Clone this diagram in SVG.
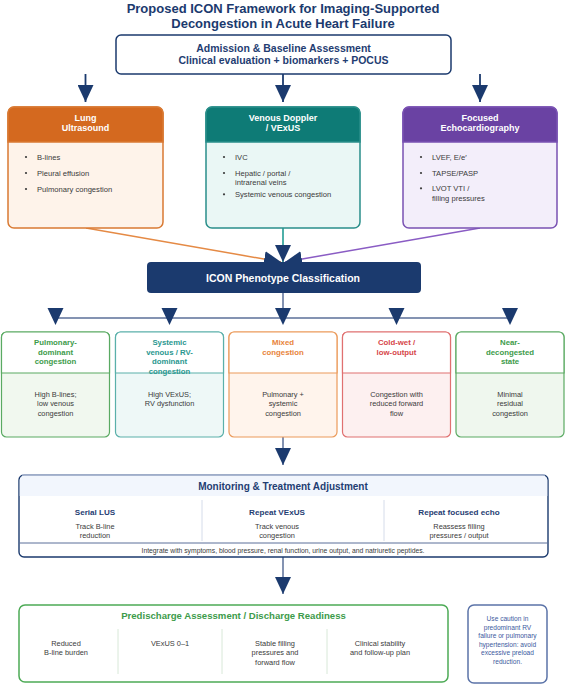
<svg xmlns="http://www.w3.org/2000/svg" width="566" height="685" viewBox="0 0 566 685">
<style>
text{font-family:"Liberation Sans",Arial,sans-serif}
.ttl{font-size:13px;font-weight:bold;fill:#1b3a6e;text-anchor:middle}
.adm{font-size:10.5px;font-weight:bold;fill:#1f3d72;text-anchor:middle}
.hd{font-size:9px;font-weight:bold;fill:#fff;text-anchor:middle}
.bl{font-size:7.6px;fill:#3a3a3a}
.ph{font-size:7.8px;font-weight:bold;text-anchor:middle}
.pb{font-size:7.4px;fill:#3a3a3a;text-anchor:middle}
.mt{font-size:10px;font-weight:bold;fill:#1f3d72;text-anchor:middle}
.mh{font-size:8.1px;font-weight:bold;fill:#1f3d72;text-anchor:middle}
.ms{font-size:7.4px;fill:#3a3a3a;text-anchor:middle}
.ft{font-size:6.8px;fill:#3a3a3a;text-anchor:middle}
.pt{font-size:9.6px;font-weight:bold;fill:#3d9b4a;text-anchor:middle}
.ct{font-size:6.6px;fill:#3d5a9e;text-anchor:middle}
.dot{fill:#3a3a3a}
</style>
<defs>
<marker id="ah" markerUnits="userSpaceOnUse" viewBox="0 0 17 16" refX="17" refY="8" markerWidth="17" markerHeight="16" orient="auto">
<path d="M0,0 L17,8 L0,16 z" fill="#1b3a6e"/>
</marker>
<path id="tri" d="M-8,0 L8,0 L0,17 z" fill="#1b3a6e"/>
</defs>

<g id="title">
<text class="ttl" x="283" y="12.5">Proposed ICON Framework for Imaging-Supported</text>
<text class="ttl" x="283" y="27.5">Decongestion in Acute Heart Failure</text>
</g>

<g id="connectors">
<g stroke="#1b3a6e" stroke-width="1.8" fill="none">
<line x1="85.5" y1="74" x2="85.5" y2="102" marker-end="url(#ah)"/>
<line x1="283" y1="74" x2="283" y2="102" marker-end="url(#ah)"/>
<line x1="480" y1="74" x2="480" y2="102" marker-end="url(#ah)"/>
</g>
<line x1="86" y1="228" x2="281" y2="262" stroke="#e58a45" stroke-width="1.5" marker-end="url(#ah)"/>
<line x1="480" y1="228" x2="285" y2="262" stroke="#8a5cc4" stroke-width="1.5" marker-end="url(#ah)"/>
<line x1="283" y1="228" x2="283" y2="262" stroke="#3aa8a0" stroke-width="1.8" marker-end="url(#ah)"/>
<g stroke="#5b6f99" stroke-width="1.5" fill="none">
<line x1="283" y1="293" x2="283" y2="318"/>
<line x1="55.5" y1="318" x2="510" y2="318"/>
<line x1="283" y1="437" x2="283" y2="465" marker-end="url(#ah)"/>
<line x1="283" y1="557" x2="283" y2="594" marker-end="url(#ah)"/>
</g>
<use href="#tri" x="55.5" y="308"/>
<use href="#tri" x="169.5" y="308"/>
<use href="#tri" x="283" y="308"/>
<use href="#tri" x="396.5" y="308"/>
<use href="#tri" x="510" y="308"/>
</g>

<g id="admission">
<rect x="116" y="35" width="335" height="39" rx="5" fill="#fff" stroke="#1b3a6e" stroke-width="1.5"/>
<text class="adm" x="283.5" y="51.5">Admission &amp; Baseline Assessment</text>
<text class="adm" x="283.5" y="64">Clinical evaluation + biomarkers + POCUS</text>
</g>

<g id="lung">
<rect x="8" y="107" width="155" height="121" rx="6" fill="#fef3ea" stroke="#d97a33" stroke-width="1.5"/>
<path d="M8,142 V113 A6,6 0 0 1 14,107 H157 A6,6 0 0 1 163,113 V142 Z" fill="#d4691f" stroke="#d97a33" stroke-width="1.5"/>
<text class="hd" x="85.5" y="121">Lung</text>
<text class="hd" x="85.5" y="131">Ultrasound</text>
<circle class="dot" cx="26" cy="157" r="1.1"/>
<circle class="dot" cx="26" cy="173" r="1.1"/>
<circle class="dot" cx="26" cy="189" r="1.1"/>
<text class="bl" x="37" y="159.7">B-lines</text>
<text class="bl" x="37" y="175.7">Pleural effusion</text>
<text class="bl" x="37" y="191.7">Pulmonary congestion</text>
</g>

<g id="venous">
<rect x="206" y="107" width="154" height="121" rx="6" fill="#eaf7f5" stroke="#2a8f8a" stroke-width="1.5"/>
<path d="M206,142 V113 A6,6 0 0 1 212,107 H354 A6,6 0 0 1 360,113 V142 Z" fill="#0e7b76" stroke="#2a8f8a" stroke-width="1.5"/>
<text class="hd" x="283" y="121">Venous Doppler</text>
<text class="hd" x="283" y="131">/ VExUS</text>
<circle class="dot" cx="224" cy="157" r="1.1"/>
<circle class="dot" cx="224" cy="173" r="1.1"/>
<circle class="dot" cx="224" cy="194.3" r="1.1"/>
<text class="bl" x="235" y="159.7">IVC</text>
<text class="bl" x="235" y="175.7">Hepatic / portal /</text>
<text class="bl" x="235" y="184.5">intrarenal veins</text>
<text class="bl" x="235" y="197">Systemic venous congestion</text>
</g>

<g id="echo">
<rect x="403" y="107" width="154" height="121" rx="6" fill="#f3eefa" stroke="#7a52b3" stroke-width="1.5"/>
<path d="M403,142 V113 A6,6 0 0 1 409,107 H551 A6,6 0 0 1 557,113 V142 Z" fill="#6a42a3" stroke="#7a52b3" stroke-width="1.5"/>
<text class="hd" x="480" y="121">Focused</text>
<text class="hd" x="480" y="131">Echocardiography</text>
<circle class="dot" cx="421" cy="157" r="1.1"/>
<circle class="dot" cx="421" cy="173" r="1.1"/>
<circle class="dot" cx="421" cy="188.3" r="1.1"/>
<text class="bl" x="432" y="159.7">LVEF, E/e′</text>
<text class="bl" x="432" y="175.7">TAPSE/PASP</text>
<text class="bl" x="432" y="191">LVOT VTI /</text>
<text class="bl" x="432" y="201">filling pressures</text>
</g>

<g id="phenotype">
<rect x="147" y="262" width="274" height="31" rx="4" fill="#1b3a6e"/>
<text x="283" y="281.8" font-size="10.5" font-weight="bold" fill="#fff" text-anchor="middle">ICON Phenotype Classification</text>
</g>

<g id="pulmonary">
<rect x="1.5" y="332" width="108" height="105" rx="5" fill="#f1f8ef" stroke="#5aaa62" stroke-width="1.2"/>
<path d="M1.5,373 V337 A5,5 0 0 1 6.5,332 H104.5 A5,5 0 0 1 109.5,337 V373 Z" fill="#fff" stroke="#5aaa62" stroke-width="1.2"/>
<text class="ph" fill="#3d9b4a" x="55.5" y="345">Pulmonary-</text>
<text class="ph" fill="#3d9b4a" x="55.5" y="354.5">dominant</text>
<text class="ph" fill="#3d9b4a" x="55.5" y="364">congestion</text>
<text class="pb" x="55.5" y="396.5">High B-lines;</text>
<text class="pb" x="55.5" y="406">low venous</text>
<text class="pb" x="55.5" y="415.5">congestion</text>
</g>

<g id="systemic">
<rect x="115.5" y="332" width="108" height="105" rx="5" fill="#eef8f7" stroke="#5ab0aa" stroke-width="1.2"/>
<path d="M115.5,373 V337 A5,5 0 0 1 120.5,332 H218.5 A5,5 0 0 1 223.5,337 V373 Z" fill="#fff" stroke="#5ab0aa" stroke-width="1.2"/>
<text class="ph" fill="#2a978f" x="169.5" y="345">Systemic</text>
<text class="ph" fill="#2a978f" x="169.5" y="354.5">venous / RV-</text>
<text class="ph" fill="#2a978f" x="169.5" y="364">dominant</text>
<text class="ph" fill="#2a978f" x="169.5" y="373.5">congestion</text>
<text class="pb" x="169.5" y="396.5">High VExUS;</text>
<text class="pb" x="169.5" y="406">RV dysfunction</text>
</g>

<g id="mixed">
<rect x="229" y="332" width="108" height="105" rx="5" fill="#fff4ec" stroke="#eb9a5a" stroke-width="1.2"/>
<path d="M229,373 V337 A5,5 0 0 1 234,332 H332 A5,5 0 0 1 337,337 V373 Z" fill="#fff" stroke="#eb9a5a" stroke-width="1.2"/>
<text class="ph" fill="#e8843a" x="283" y="345">Mixed</text>
<text class="ph" fill="#e8843a" x="283" y="354.5">congestion</text>
<text class="pb" x="283" y="396.5">Pulmonary +</text>
<text class="pb" x="283" y="406">systemic</text>
<text class="pb" x="283" y="415.5">congestion</text>
</g>

<g id="coldwet">
<rect x="342.5" y="332" width="108" height="105" rx="5" fill="#fdf0f0" stroke="#e07070" stroke-width="1.2"/>
<path d="M342.5,373 V337 A5,5 0 0 1 347.5,332 H445.5 A5,5 0 0 1 450.5,337 V373 Z" fill="#fff" stroke="#e07070" stroke-width="1.2"/>
<text class="ph" fill="#d6464a" x="396.5" y="345">Cold-wet /</text>
<text class="ph" fill="#d6464a" x="396.5" y="354.5">low-output</text>
<text class="pb" x="396.5" y="396.5">Congestion with</text>
<text class="pb" x="396.5" y="406">reduced forward</text>
<text class="pb" x="396.5" y="415.5">flow</text>
</g>

<g id="near">
<rect x="456" y="332" width="108" height="105" rx="5" fill="#eff7ee" stroke="#5aaa62" stroke-width="1.2"/>
<path d="M456,373 V337 A5,5 0 0 1 461,332 H559 A5,5 0 0 1 564,337 V373 Z" fill="#fff" stroke="#5aaa62" stroke-width="1.2"/>
<text class="ph" fill="#3d9b4a" x="510" y="345">Near-</text>
<text class="ph" fill="#3d9b4a" x="510" y="354.5">decongested</text>
<text class="ph" fill="#3d9b4a" x="510" y="364">state</text>
<text class="pb" x="510" y="396.5">Minimal</text>
<text class="pb" x="510" y="406">residual</text>
<text class="pb" x="510" y="415.5">congestion</text>
</g>

<g id="monitoring">
<rect x="19" y="475" width="529" height="82" rx="5" fill="#fff" stroke="#1b3a6e" stroke-width="1.4"/>
<path d="M19.7,496 V480 A5,5 0 0 1 24,475.7 H543 A5,5 0 0 1 547.3,480 V496 Z" fill="#f2f6fd"/>
<path d="M22,475 H545" stroke="#b8c4dc" stroke-width="1.4"/>
<text class="mt" x="283" y="489.5">Monitoring &amp; Treatment Adjustment</text>
<g stroke="#d5dcea" stroke-width="1">
<line x1="202" y1="500" x2="202" y2="541"/>
<line x1="384" y1="500" x2="384" y2="541"/>
</g>
<line x1="19" y1="543" x2="548" y2="543" stroke="#5b6f99" stroke-width="1"/>
<text class="mh" x="95" y="515">Serial LUS</text>
<text class="ms" x="95" y="529.2">Track B-line</text>
<text class="ms" x="95" y="538.4">reduction</text>
<text class="mh" x="277" y="515">Repeat VExUS</text>
<text class="ms" x="277" y="529.2">Track venous</text>
<text class="ms" x="277" y="538.4">congestion</text>
<text class="mh" x="459" y="515">Repeat focused echo</text>
<text class="ms" x="459" y="529.2">Reassess filling</text>
<text class="ms" x="459" y="538.4">pressures / output</text>
<text class="ft" x="283" y="553">Integrate with symptoms, blood pressure, renal function, urine output, and natriuretic peptides.</text>
</g>

<g id="predischarge">
<rect x="19" y="605" width="429" height="77" rx="6" fill="#fff" stroke="#4caa55" stroke-width="1.5"/>
<text class="pt" x="233.5" y="619">Predischarge Assessment / Discharge Readiness</text>
<g stroke="#d8e8d8" stroke-width="1">
<line x1="118" y1="629" x2="118" y2="674"/>
<line x1="222" y1="629" x2="222" y2="674"/>
<line x1="327" y1="629" x2="327" y2="674"/>
</g>
<text class="ms" x="66" y="645.5">Reduced</text>
<text class="ms" x="66" y="655">B-line burden</text>
<text class="ms" x="170" y="645.5">VExUS 0–1</text>
<text class="ms" x="275" y="645.5">Stable filling</text>
<text class="ms" x="275" y="655">pressures and</text>
<text class="ms" x="275" y="664.5">forward flow</text>
<text class="ms" x="380" y="645.5">Clinical stability</text>
<text class="ms" x="380" y="655">and follow-up plan</text>
</g>

<g id="caution">
<rect x="468" y="605" width="79" height="78" rx="6" fill="#fff" stroke="#5b73a8" stroke-width="1.5"/>
<text class="ct" x="507.5" y="621.3">Use caution in</text>
<text class="ct" x="507.5" y="629.8">predominant RV</text>
<text class="ct" x="507.5" y="638.3">failure or pulmonary</text>
<text class="ct" x="507.5" y="646.8">hypertension: avoid</text>
<text class="ct" x="507.5" y="655.3">excessive preload</text>
<text class="ct" x="507.5" y="663.8">reduction.</text>
</g>
</svg>
